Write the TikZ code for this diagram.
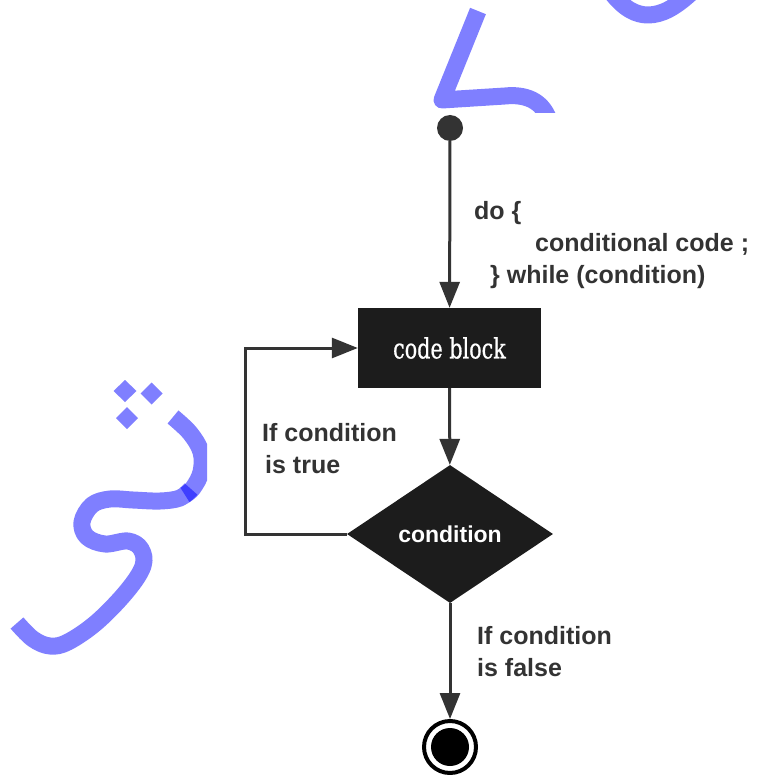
\documentclass[tikz,border=0pt]{standalone}
\usepackage{fontspec}
\setmainfont{Liberation Sans}
\newfontfamily\blockfont[FakeStretch=0.74,FakeBold=0.6]{DejaVu Serif}
\usetikzlibrary{arrows.meta,shapes.geometric}
\definecolor{ink}{HTML}{333333}
\definecolor{boxfill}{HTML}{1C1C1C}
\begin{document}
\begin{tikzpicture}[x=1pt,y=-1pt,
  flow/.style={draw=ink, line width=3pt, -{Triangle[length=26pt,width=20pt]}},
  lbl/.style={text=ink, font=\bfseries\fontsize{25}{32}\selectfont, align=left, inner sep=0pt},
  marker/.style={draw=blue, draw opacity=0.5, line width=17pt, line cap=butt, line join=round},
  dotmark/.style={fill=blue, fill opacity=0.5}
]
\useasboundingbox (0,0) rectangle (762,775);

% flowchart nodes
\node[circle, fill=ink, minimum size=26pt, inner sep=0pt] (start) at (450,128) {};
\node[fill=boxfill, minimum width=183pt, minimum height=80pt, inner sep=0pt, text=white,
      font=\blockfont\fontsize{28}{32}\selectfont] (block) at (449.5,348) {code block};
\node[diamond, fill=boxfill, minimum width=206pt, minimum height=138pt, inner sep=0pt,
      text=white, font=\bfseries\fontsize{23}{28}\selectfont] (cond) at (450,534) {condition};
\node[circle, draw=black, line width=4pt, minimum size=52pt, inner sep=0pt] (stop) at (450,747) {};
\node[circle, fill=black, minimum size=38pt, inner sep=0pt] (stopcore) at (stop.center) {};
\coordinate (loopcorner) at (245,534);

% connectors
\draw[flow] (start) -- (block);
\draw[flow] (block) -- (cond);
\draw[flow] (cond) -- (stop);
\draw[flow] (cond.west) -- (loopcorner) |- (block.west);

% labels
\node[lbl, anchor=north west] (dolabel) at (474,201)
  {do \{\\\hspace{61pt}conditional code ;\\\hspace{16pt}\} while (condition)};
\node[lbl, anchor=north west] (truelabel) at (262,423) {If condition\\\hspace{3pt}is true};
\node[lbl, anchor=north west] (falselabel) at (477,626) {If condition\\is false};

% marker strokes
\begin{scope}
  \clip (400,0) rectangle (600,113);
  \draw[marker] (478,11) -- (442,100) -- (505,96) .. controls (525,94) and (542,100) .. (549,120);
\end{scope}
\draw[marker] (611,-8) .. controls (624,9) and (636,15) .. (648,15) .. controls (662,15) and (676,7) .. (692,-8);
\begin{scope}
  \clip (0,370) rectangle (207,670);
  \fill[dotmark] (125,380) -- (136.5,391) -- (125,402) -- (113.5,391) -- cycle;
  \fill[dotmark] (151.5,382.5) -- (162.5,393.5) -- (151.5,404.5) -- (140.5,393.5) -- cycle;
  \fill[dotmark] (127,407) -- (138,418) -- (127,429) -- (116,418) -- cycle;
  \draw[marker] plot[smooth, tension=0.6] coordinates
    {(173,417) (190,433) (201,452) (201,472) (193,488) (185,495)};
  \draw[marker] plot[smooth, tension=0.6] coordinates
    {(191,489) (180,498) (160,501) (133,500) (110,499) (92,505) (82,522) (87,537) (105,544)
     (128,541) (141,549) (143,566) (127,591) (97,622) (68,642) (50,646) (33,639) (17,623)};
\end{scope}
\end{tikzpicture}
\end{document}
